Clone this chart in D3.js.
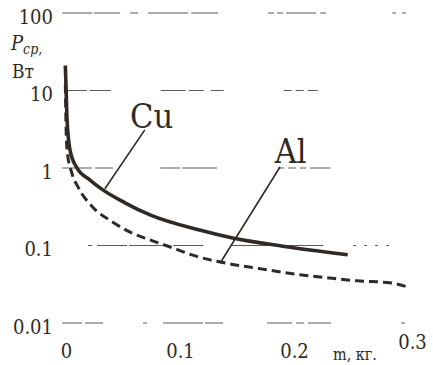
<!DOCTYPE html>
<html>
<head>
<meta charset="utf-8">
<script src="https://cdn.jsdelivr.net/npm/d3@7"></script>
<style>
  html, body { margin: 0; padding: 0; background: #fff; }
  svg { display: block; }
  svg text { font-family: "DejaVu Serif Condensed", "DejaVu Serif", serif; }
</style>
</head>
<body>
<svg id="svg" width="433" height="365"></svg>
<script>
// values: m (kg) -> P_ср (W)
const cuMass  = [0.0003, 0.001, 0.0018, 0.0044, 0.0105, 0.022, 0.031, 0.053, 0.0746, 0.118, 0.147, 0.191, 0.248];
const cuPower = [21, 10, 4.2, 1.7, 1.0, 0.70, 0.55, 0.353, 0.248, 0.158, 0.125, 0.098, 0.076];

const alMass  = [0.0003, 0.001, 0.0018, 0.006, 0.0114, 0.0246, 0.042, 0.057, 0.0746, 0.0947, 0.112, 0.147, 0.168, 0.206, 0.232, 0.256, 0.285, 0.301];
const alPower = [12, 3.1, 1.7, 0.86, 0.57, 0.31, 0.20, 0.149, 0.118, 0.093, 0.075, 0.057, 0.051, 0.042, 0.038, 0.035, 0.033, 0.029];

const yTicks = [100, 10, 1, 0.1, 0.01];
const yTickLabels = ["100", "10", "1", "0.1", "0.01"];
const xTicks = [0, 0.1, 0.2, 0.3];
const xTickLabels = ["0", "0.1", "0.2", "0.3"];

// curve labels with leader lines: [text position], [leader from], [leader to]
const labelNames = ["Cu", "Al"];
const labelAt   = [[0.057, 3.3], [0.184, 1.16]];
const leaderFrom = [[0.070, 3.1], [0.1886, 1.03]];
const leaderTo   = [[0.035, 0.54], [0.136, 0.059]];

// broken, scanned-looking grid lines (style only)
const gridDash = {
  100:  "30,2,26,10,8,10,40,3,27,50,6,3,6,3,30,4,6,66,4,6,4,6,8,100",
  10:   "20,3,21,50,25,3,15,7,13,60,8,4,8,4,10,200",
  1:    "30,3,18,47,20,2,35,61,6,4,8,4,6,4,20,200",
  0.1:  "0,26,4,5,30,2,40,4,30,27,50,3,40,30,3,8,3,8,3,8,3,100",
  0.01: "20,3,18,40,4,16,40,2,18,44,25,4,8,4,23,70,4,3,3,100"
};

const ink = "#2f2a26";
const svg = d3.select("#svg");

const x = d3.scaleLinear().domain([0, 0.3]).range([65, 407]);
const y = d3.scaleLog().domain([0.01, 100]).range([323, 13]);

// grid
svg.append("g")
  .selectAll("line")
  .data(yTicks)
  .join("line")
    .attr("x1", d => d === 10 ? x(0.0015) : x(-0.0025))
    .attr("x2", x(0.3))
    .attr("y1", d => y(d))
    .attr("y2", d => y(d))
    .attr("stroke", "#5a5a5a")
    .attr("stroke-width", 1.2)
    .attr("stroke-dasharray", d => gridDash[d]);

// y axis (labels only)
const yAxis = d3.axisLeft(y)
  .tickValues(yTicks)
  .tickSize(0)
  .tickPadding(0)
  .tickFormat((d, i) => yTickLabels[i]);

svg.append("g")
  .attr("transform", "translate(53,4)")
  .call(yAxis)
  .call(g => g.select(".domain").remove())
  .call(g => g.attr("font-family", null))
  .call(g => g.selectAll("text")
      .attr("font-size", 20)
      .attr("fill", ink));

// x axis (labels only)
const xAxis = d3.axisBottom(x)
  .tickValues(xTicks)
  .tickSize(0)
  .tickPadding(0)
  .tickFormat((d, i) => xTickLabels[i]);

svg.append("g")
  .attr("transform", "translate(1,344)")
  .call(xAxis)
  .call(g => g.select(".domain").remove())
  .call(g => g.attr("font-family", null))
  .call(g => g.selectAll("text")
      .attr("font-size", 20)
      .attr("fill", ink))
  .call(g => g.selectAll(".tick").filter(d => d === 0.3)
      .select("text").attr("dx", 4).attr("dy", "0.25em"));

// axis titles
const yTitle = svg.append("text")
  .attr("x", 11)
  .attr("y", 50)
  .attr("fill", ink)
  .attr("font-size", 20);
yTitle.append("tspan").attr("font-style", "italic").text("P");
yTitle.append("tspan").attr("font-style", "italic").attr("font-size", 14).attr("dy", 4).text("ср");
yTitle.append("tspan").attr("font-size", 14).text(",");

svg.append("text")
  .attr("x", 12)
  .attr("y", 78)
  .attr("fill", ink)
  .attr("font-size", 19)
  .text("Вт");

svg.append("text")
  .attr("x", 333)
  .attr("y", 360)
  .attr("fill", ink)
  .attr("font-size", 16)
  .text("m, кг.");

// curves
const line = d3.line()
  .x(d => x(d[0]))
  .y(d => y(d[1]))
  .curve(d3.curveMonotoneX);

svg.append("path")
  .datum(d3.zip(alMass, alPower))
  .attr("d", line)
  .attr("fill", "none")
  .attr("stroke", ink)
  .attr("stroke-width", 3)
  .attr("stroke-dasharray", "9,5");

svg.append("path")
  .datum(d3.zip(cuMass, cuPower))
  .attr("d", line)
  .attr("fill", "none")
  .attr("stroke", ink)
  .attr("stroke-width", 3.6);

// labels and leaders
svg.append("g")
  .selectAll("line")
  .data(labelNames)
  .join("line")
    .attr("x1", (d, i) => x(leaderFrom[i][0]))
    .attr("y1", (d, i) => y(leaderFrom[i][1]))
    .attr("x2", (d, i) => x(leaderTo[i][0]))
    .attr("y2", (d, i) => y(leaderTo[i][1]))
    .attr("stroke", ink)
    .attr("stroke-width", 1.6);

svg.append("g")
  .selectAll("text")
  .data(labelNames)
  .join("text")
    .attr("x", (d, i) => x(labelAt[i][0]))
    .attr("y", (d, i) => y(labelAt[i][1]))
    .attr("fill", ink)
    .attr("font-size", 34)
    .text(d => d);
</script>
</body>
</html>
